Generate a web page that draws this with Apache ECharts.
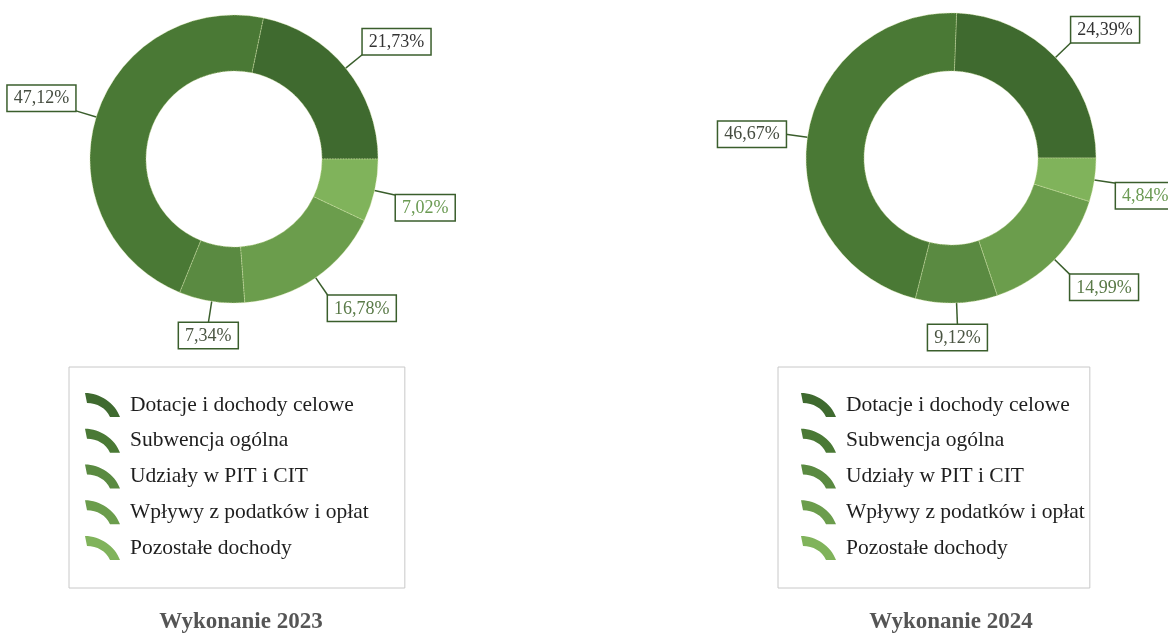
<!DOCTYPE html>
<html>
<head>
<meta charset="utf-8">
<script src="https://cdn.jsdelivr.net/npm/echarts@6/dist/echarts.min.js"></script>
<style>
html,body{margin:0;padding:0;background:#fff;}
#chart{width:1168px;height:637px;}
</style>
</head>
<body>
<div id="chart"></div>
<script>
// ---- data ----
const categories = ['Dotacje i dochody celowe', 'Subwencja ogólna', 'Udziały w PIT i CIT', 'Wpływy z podatków i opłat', 'Pozostałe dochody'];
const values2023 = [21.73, 47.12, 7.34, 16.78, 7.02];
const values2024 = [24.39, 46.67, 9.12, 14.99, 4.84];
const titles = ['Wykonanie 2023', 'Wykonanie 2024'];

// ---- style ----
const sliceColors = ['#3f6a2f', '#4a7935', '#5a8a41', '#6b9d4c', '#80b35b'];
const labelColors = ['#333333', '#454c40', '#4a5542', '#5a7a48', '#6a9a52'];
// which corner of the label box sits at the end of the leader line
const anchors = [
  ['bl', 'br', 'tc', 'tl', 'tl'],
  ['bl', 'mr', 'tc', 'tl', 'tl']
];
const FONT = '"Liberation Serif", "Times New Roman", serif';
const arcIcon = 'path://M0,0 C15,0 30,10 35,24 L25,24 C21,15 12,10 2,10 Z';

function fmt(v) { return v.toFixed(2).replace('.', ',') + '%'; }

function buildData(values) {
  return categories.map((name, i) => ({
    name: name,
    value: values[i],
    itemStyle: { color: sliceColors[i] },
    label: { color: labelColors[i] }
  }));
}

function pieSeries(values, center, radius) {
  return {
    type: 'pie',
    center: center,
    radius: radius,
    startAngle: 0,
    clockwise: false,
    avoidLabelOverlap: false,
    animation: false,
    silent: true,
    itemStyle: { borderColor: 'rgba(215,230,170,0.9)', borderWidth: 0.8, borderType: 'dotted' },
    label: {
      show: true,
      position: 'outside',
      formatter: p => fmt(p.value),
      fontFamily: FONT,
      fontSize: 18,
      lineHeight: 20,
      backgroundColor: '#ffffff',
      borderColor: '#3a5e2c',
      borderWidth: 1.5,
      padding: [3, 6, 2, 6],
      distanceToLabelLine: 0
    },
    labelLine: {
      show: true,
      length: 22,
      length2: 1,
      smooth: false,
      lineStyle: { color: '#3a5e2c', width: 1.5 }
    },
    labelLayout: function (params) {
      const pts = params.labelLinePoints;
      if (!pts) return {};
      const a = anchors[params.seriesIndex][params.dataIndex];
      const end = pts[1];
      const v = a[0] === 'b' ? 'bottom' : (a[0] === 't' ? 'top' : 'middle');
      const h = a[1] === 'l' ? 'left' : (a[1] === 'r' ? 'right' : 'center');
      return {
        x: end[0],
        y: end[1],
        align: h,
        verticalAlign: v,
        labelLinePoints: [pts[0], end]
      };
    },
    data: buildData(values)
  };
}

function legendAt(left, top, padLeft, padRight) {
  return {
    orient: 'vertical',
    left: left,
    top: top,
    data: categories.map(n => ({ name: n, icon: arcIcon })),
    itemWidth: 35,
    itemHeight: 24,
    itemGap: 11.75,
    padding: [26, padRight, 28, padLeft],
    borderColor: '#c8c8c8',
    borderWidth: 1,
    selectedMode: false,
    itemStyle: { borderWidth: 0 },
    textStyle: {
      fontFamily: FONT,
      fontSize: 21.5,
      color: '#1e1e1e',
      padding: [0, 0, 0, 5]
    }
  };
}

const chart = echarts.init(document.getElementById('chart'), null, { renderer: 'canvas' });
chart.setOption({
  backgroundColor: '#ffffff',
  animation: false,
  title: [
    { text: titles[0], left: 236, top: 606, textAlign: 'center',
      textStyle: { fontFamily: FONT, fontSize: 23, fontWeight: 'bold', color: '#555555' } },
    { text: titles[1], left: 946, top: 606, textAlign: 'center',
      textStyle: { fontFamily: FONT, fontSize: 23, fontWeight: 'bold', color: '#555555' } }
  ],
  legend: [
    legendAt(69, 367, 16, 36),
    legendAt(778, 367, 23, 5)
  ],
  series: [
    pieSeries(values2023, [234, 159], [88, 144]),
    pieSeries(values2024, [951, 158], [87, 145])
  ]
});
</script>
</body>
</html>
